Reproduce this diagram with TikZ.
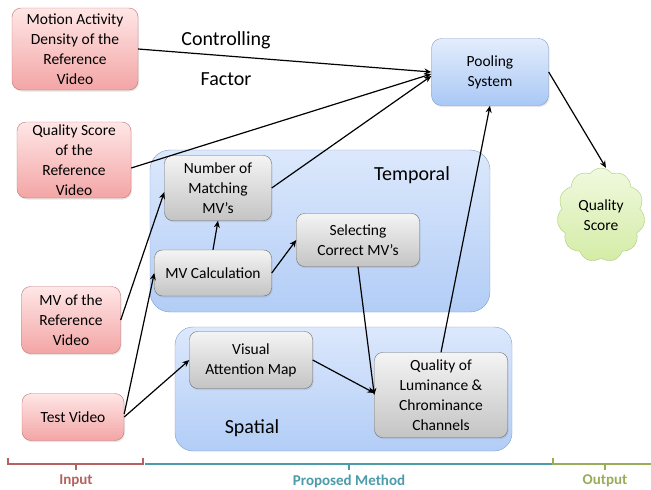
\documentclass[tikz,border=0pt]{standalone}
\usepackage{fontspec}
\setmainfont{Carlito}
\usetikzlibrary{arrows.meta,shapes.symbols,shadows}

% Farben
\definecolor{inTop}{HTML}{FFE6E6}
\definecolor{inBot}{HTML}{F3A5A5}
\definecolor{inLine}{HTML}{C27474}
\definecolor{grTop}{HTML}{F4F4F4}
\definecolor{grBot}{HTML}{C4C4C4}
\definecolor{grLine}{HTML}{6E6E6E}
\definecolor{blTop}{HTML}{E4EDFC}
\definecolor{blBot}{HTML}{A9C8F6}
\definecolor{blLine}{HTML}{7E9FCB}
\definecolor{cnTop}{HTML}{DCE8FC}
\definecolor{cnBot}{HTML}{B2CDF6}
\definecolor{clTop}{HTML}{F0F9DE}
\definecolor{clBot}{HTML}{D4ECA6}
\definecolor{clLine}{HTML}{A9CC74}
\definecolor{inText}{HTML}{B4625F}
\definecolor{pmText}{HTML}{4B9BAB}
\definecolor{outText}{HTML}{98AD5A}

\tikzset{
  boxtext/.style={align=center, inner sep=0pt, font=\fontsize{15.5}{20}\selectfont},
  inbox/.style={boxtext, draw=inLine, rounded corners=9pt, top color=inTop, bottom color=inBot,
    drop shadow={opacity=0.2, shadow xshift=1pt, shadow yshift=-1.5pt}},
  grbox/.style={boxtext, draw=grLine, rounded corners=8pt, top color=grTop, bottom color=grBot,
    drop shadow={opacity=0.2, shadow xshift=1pt, shadow yshift=-1.5pt}},
  blbox/.style={boxtext, draw=blLine, rounded corners=10pt, top color=blTop, bottom color=blBot,
    drop shadow={opacity=0.2, shadow xshift=1pt, shadow yshift=-1.5pt}},
  container/.style={draw=blLine, rounded corners=20pt, top color=cnTop, bottom color=cnBot},
  bigtext/.style={font=\fontsize{20}{24}\selectfont},
  flow/.style={-{Stealth[length=7pt,width=6pt]}, line width=1.2pt},
  brace/.style={line width=1.6pt},
  bracetext/.style={font=\fontsize{15}{18}\selectfont\bfseries}
}

\begin{document}
\begin{tikzpicture}[x=1pt,y=-1pt]
        \useasboundingbox (0,0) rectangle (651,490);

        % Gruppen
        \path[container] (150,150) rectangle (490,312);
        \node[bigtext] (temporal) at (412,175) {Temporal};
        \path[container, rounded corners=18pt] (175,327) rectangle (512,451);
        \node[bigtext] (spatial) at (252,428) {Spatial};

        % Eingaben
        \node[inbox, minimum width=126, minimum height=82] (mad) at (75,49) {Motion Activity\\Density of the\\Reference\\Video};
        \node[inbox, minimum width=114, minimum height=76] (qsr) at (74,160) {Quality Score\\of the\\Reference\\Video};
        \node[inbox, minimum width=99, minimum height=67] (mvr) at (71,320) {MV of the\\Reference\\Video};
        \node[inbox, minimum width=102, minimum height=47] (tv) at (73,417) {Test Video};

        % Verarbeitung
        \node[grbox, minimum width=107, minimum height=65] (nm) at (218,188) {Number of\\Matching\\MV’s};
        \node[grbox, minimum width=117, minimum height=46] (mvc) at (213,273) {MV Calculation};
        \node[grbox, minimum width=123, minimum height=53] (sel) at (358,240) {Selecting\\Correct MV’s};
        \node[grbox, minimum width=123, minimum height=57] (vam) at (251,360) {Visual\\Attention Map};
        \node[grbox, minimum width=133, minimum height=85] (ql) at (441,395) {Quality of\\Luminance \&\\Chrominance\\Channels};

        % Ausgabe
        \node[blbox, minimum width=117, minimum height=67] (pool) at (490,72) {Pooling\\System};
        \node[boxtext, cloud, cloud puffs=11, cloud puff arc=110, draw=clLine, top color=clTop, bottom color=clBot,
          minimum width=88, minimum height=94] (qs) at (601,215) {Quality\\Score};

        \node[bigtext] (ctrl) at (226,40) {Controlling};
        \node[bigtext] (fac) at (226,79) {Factor};

        % Pfeile
        \draw[flow] (mad.east) -- (pool.west);
        \draw[flow] ([yshift=-8pt]qsr.east) -- ([yshift=-2pt]pool.west);
        \draw[flow] (nm.east) -- ([yshift=-4pt]pool.west);
        \draw[flow] (mvr.east) -- ([yshift=-4pt]nm.west);
        \draw[flow] ([yshift=3pt]tv.east) -- (mvc.west);
        \draw[flow] (tv.east) -- (vam.west);
        \draw[flow] (mvc.north) -- (nm.south);
        \draw[flow] (mvc.east) -- (sel.west);
        \draw[flow] (sel.south) -- (ql.west);
        \draw[flow] (vam.east) -- ([yshift=2pt]ql.west);
        \draw[flow] (ql.north) -- (pool.south);
        \draw[flow] (pool.east) -- ([xshift=5pt]qs.north);

        % Klammern unten
        \draw[brace, inText] (8,458) -- (8,464) -- (143,464) -- (143,458);
        \draw[brace, inText] (76,464) -- (76,470);
        \node[bracetext, text=inText] (inlab) at (76,481) {Input};
        \draw[brace, pmText] (145,464) -- (553,464);
        \draw[brace, pmText] (349,464) -- (349,470);
        \node[bracetext, text=pmText] (pmlab) at (349,481) {Proposed Method};
        \draw[brace, outText] (553,458) -- (553,464) -- (651,464);
        \draw[brace, outText] (605,464) -- (605,470);
        \node[bracetext, text=outText] (outlab) at (605,481) {Output};
      \end{tikzpicture}
\end{document}
